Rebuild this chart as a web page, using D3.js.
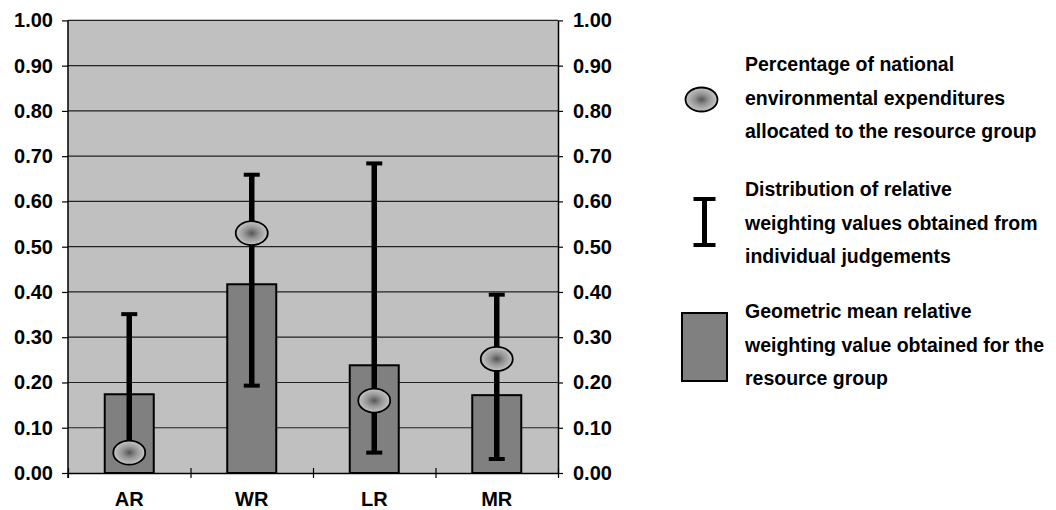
<!DOCTYPE html>
<html>
<head>
<meta charset="utf-8">
<script src="https://cdn.jsdelivr.net/npm/d3@7"></script>
<style>
  body { margin: 0; background: #fff; }
  svg text { font-family: Arial, "Liberation Sans", sans-serif; font-weight: bold; fill: #000; }
</style>
</head>
<body>
<div class="chart"></div>
<script>
// values
var categories = ["AR", "WR", "LR", "MR"];
var geoMean = [0.174, 0.417, 0.238, 0.172];
var rangeLow = [0.05, 0.193, 0.045, 0.031];
var rangeHigh = [0.351, 0.659, 0.684, 0.394];
var expenditure = [0.045, 0.530, 0.160, 0.252];
var yTicks = [0, 0.1, 0.2, 0.3, 0.4, 0.5, 0.6, 0.7, 0.8, 0.9, 1.0];
var legendLabels = [
  ["Percentage of national", "environmental expenditures", "allocated to the resource group"],
  ["Distribution of relative", "weighting values obtained from", "individual judgements"],
  ["Geometric mean relative", "weighting value obtained for the", "resource group"]
];

function drawChart() {
  var W = 1056, H = 510;
  var pLeft = 68, pRight = 558, pTop = 20.4, pBottom = 473;
  var fontSize = 20;

  var svg = d3.select("div.chart").append("svg")
    .attr("width", W).attr("height", H);

  // gradient for the ellipses
  var grad = svg.append("defs").append("radialGradient").attr("id", "dotGrad");
  grad.append("stop").attr("offset", "0%").attr("stop-color", "#555");
  grad.append("stop").attr("offset", "45%").attr("stop-color", "#949494");
  grad.append("stop").attr("offset", "100%").attr("stop-color", "#c6c6c6");

  var y = d3.scaleLinear().domain([0, 1]).range([pBottom, pTop]);
  var x = d3.scaleBand().domain(categories).range([pLeft, pRight]);
  var xEdges = d3.scaleLinear().domain([0, categories.length]).range([pLeft, pRight]);
  var barW = x.bandwidth() * 0.4;
  var cx = function (d) { return x(d) + x.bandwidth() / 2; };

  // plot background
  svg.append("rect")
    .attr("x", pLeft).attr("y", pTop)
    .attr("width", pRight - pLeft).attr("height", pBottom - pTop)
    .style("fill", "#c0c0c0");

  // gridlines
  svg.selectAll("line.grid")
    .data(yTicks.slice(1)).enter().append("line")
    .attr("class", "grid")
    .attr("x1", pLeft).attr("x2", pRight)
    .attr("y1", function (d) { return y(d); })
    .attr("y2", function (d) { return y(d); })
    .style("stroke", "#222").style("stroke-width", 1.2);

  // left and right value axes
  var axL = svg.append("g")
    .attr("transform", "translate(" + pLeft + ",0)")
    .call(d3.axisLeft(y).tickValues(yTicks).tickFormat(d3.format(".2f")).tickSizeInner(6).tickSizeOuter(0).tickPadding(9));
  var axR = svg.append("g")
    .attr("transform", "translate(" + pRight + ",0)")
    .call(d3.axisRight(y).tickValues(yTicks).tickFormat(d3.format(".2f")).tickSizeInner(5).tickSizeOuter(0).tickPadding(10));
  [axL, axR].forEach(function (ax) {
    ax.attr("font-size", null).attr("font-family", null);
    ax.selectAll("text").style("font-size", fontSize + "px");
    ax.selectAll("line").style("stroke", "#000").style("stroke-width", 1.2);
    ax.select(".domain").style("stroke", "#000").style("stroke-width", 1.5);
  });
  axL.select(".domain").attr("d", "M0," + pTop + "V" + (pBottom + 5));

  // bottom axis: crossing ticks at band edges
  var axB = svg.append("g")
    .attr("transform", "translate(0," + pBottom + ")")
    .call(d3.axisBottom(xEdges).ticks(categories.length).tickFormat("").tickSizeInner(5).tickSizeOuter(0));
  axB.selectAll(".tick line").attr("y1", -5).style("stroke", "#000").style("stroke-width", 1.2);
  axB.select(".domain").style("stroke", "#000").style("stroke-width", 1.5);

  // category labels
  var axC = svg.append("g")
    .attr("transform", "translate(0," + pBottom + ")")
    .call(d3.axisBottom(x).tickSize(0).tickPadding(19));
  axC.attr("font-size", null).attr("font-family", null);
  axC.select(".domain").remove();
  axC.selectAll("text").style("font-size", fontSize + "px");

  // bars
  svg.selectAll("rect.bar")
    .data(categories).enter().append("rect")
    .attr("class", "bar")
    .attr("x", function (d) { return cx(d) - barW / 2; })
    .attr("width", barW)
    .attr("y", function (d, i) { return y(geoMean[i]); })
    .attr("height", function (d, i) { return y(0) - y(geoMean[i]); })
    .style("fill", "#808080").style("stroke", "#000").style("stroke-width", 2);

  // error bars
  var eb = svg.selectAll("g.err")
    .data(categories).enter().append("g")
    .attr("class", "err")
    .attr("transform", function (d) { return "translate(" + cx(d) + ",0)"; });
  eb.append("line")
    .attr("x1", 0).attr("x2", 0)
    .attr("y1", function (d, i) { return y(rangeLow[i]); })
    .attr("y2", function (d, i) { return y(rangeHigh[i]); })
    .style("stroke", "#000").style("stroke-width", 5.5);
  eb.append("line")
    .attr("x1", -8).attr("x2", 8)
    .attr("y1", function (d, i) { return y(rangeHigh[i]); })
    .attr("y2", function (d, i) { return y(rangeHigh[i]); })
    .style("stroke", "#000").style("stroke-width", 4);
  eb.append("line")
    .attr("x1", -8).attr("x2", 8)
    .attr("y1", function (d, i) { return y(rangeLow[i]); })
    .attr("y2", function (d, i) { return y(rangeLow[i]); })
    .style("stroke", "#000").style("stroke-width", 4);

  // expenditure ellipses
  svg.selectAll("ellipse.dot")
    .data(categories).enter().append("ellipse")
    .attr("class", "dot")
    .attr("cx", cx)
    .attr("cy", function (d, i) { return y(expenditure[i]); })
    .attr("rx", 16).attr("ry", 12)
    .style("fill", "url(#dotGrad)").style("stroke", "#000").style("stroke-width", 1.8);

  // legend
  var lg = svg.append("g");
  lg.append("ellipse")
    .attr("cx", 701.5).attr("cy", 99.5).attr("rx", 16).attr("ry", 12)
    .style("fill", "url(#dotGrad)").style("stroke", "#000").style("stroke-width", 1.8);
  lg.append("line").attr("x1", 704.5).attr("x2", 704.5).attr("y1", 199).attr("y2", 245)
    .style("stroke", "#000").style("stroke-width", 5);
  lg.append("line").attr("x1", 693.5).attr("x2", 715.5).attr("y1", 199).attr("y2", 199)
    .style("stroke", "#000").style("stroke-width", 4);
  lg.append("line").attr("x1", 693.5).attr("x2", 715.5).attr("y1", 245).attr("y2", 245)
    .style("stroke", "#000").style("stroke-width", 4);
  lg.append("rect").attr("x", 682).attr("y", 313).attr("width", 45).attr("height", 68)
    .style("fill", "#808080").style("stroke", "#000").style("stroke-width", 2);

  var baseY = [71, 196, 318];
  legendLabels.forEach(function (lines, gi) {
    lg.selectAll(null)
      .data(lines).enter().append("text")
      .attr("x", 745)
      .attr("y", function (d, li) { return baseY[gi] + li * 33.5; })
      .style("font-size", "19.5px")
      .text(function (d) { return d; });
  });
}

drawChart();
</script>
</body>
</html>
